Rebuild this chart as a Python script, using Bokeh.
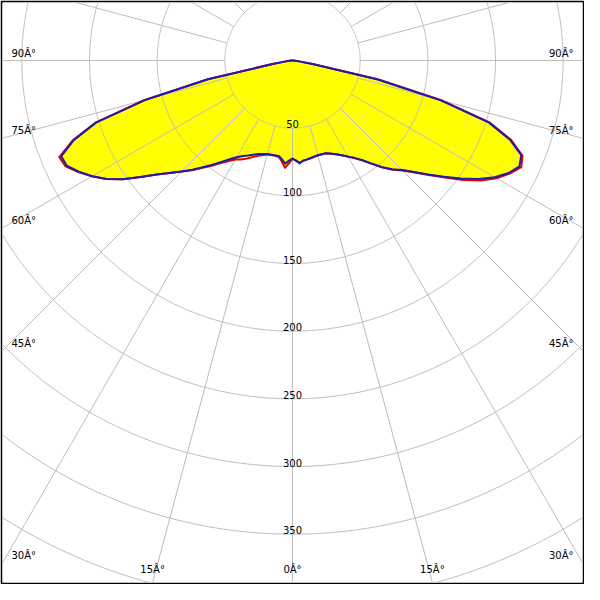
import numpy as np
from bokeh.plotting import figure
from bokeh.models import Range1d
from bokeh.core.properties import value
from bokeh.embed import file_html
from bokeh.resources import INLINE

# ---- data (candela values) ----
gamma = [0, 2, 4, 6, 8, 10, 15, 20, 25, 27.5, 30, 32.5, 35, 37.5, 40, 42.5, 45,
         47.5, 50, 52.5, 55, 57.5, 60, 62.5, 65, 67.5, 70, 72.5, 75, 77.5, 80,
         82.5, 85, 87.5, 90]
blue_left = [72.5, 74, 76.5, 73.5, 71.5, 71.3, 71.5, 73.5, 77.5, 79.5, 82.5, 86.5,
             91.5, 97, 103, 109.5, 116, 123, 131, 141.5, 153, 163, 171, 178, 184,
             185, 172, 152, 113, 64, 15, 5, 2, 1, 0]
blue_right = [72.5, 74, 76, 74.5, 74, 73.5, 72.5, 73, 76.5, 79, 82, 85.5, 90, 96,
              103, 109, 114.5, 122, 131, 141, 152, 163, 172.5, 180, 185, 183, 171,
              152, 113, 64, 15, 5, 2, 1, 0]
red_left = [72.5, 76, 79.5, 75, 72, 71.5, 72, 75, 80, 82.5, 84.5, 88, 92.5, 98,
            103.5, 110, 116, 123, 131, 141.5, 153, 163, 171, 178.5, 185, 186.5,
            173, 152.5, 113.5, 64, 15, 5, 2, 1, 0]
red_right = [72.5, 74, 76, 74.5, 74, 73.5, 72.5, 73, 76.5, 79, 82, 85.5, 90, 96,
             103, 109.5, 115, 122.5, 131.5, 142, 154, 165, 174, 181, 186.5, 184,
             172, 153, 115, 65, 15, 5, 2, 1, 0]

ring_values = [50, 100, 150, 200, 250, 300, 350, 400, 450]
ring_labels = ["50", "100", "150", "200", "250", "300", "350"]
spoke_step = 15
side_angles = [90, 75, 60, 45, 30]
side_labels = ["90Â°", "75Â°", "60Â°", "45Â°", "30Â°"]
bottom_angles = [-15, 0, 15]
bottom_labels = ["15Â°", "0Â°", "15Â°"]

# ---- view ----
XMAX = 214.29
YMIN, YMAX = -385.71, 42.86
PXU = 580 / (2 * XMAX)  # pixels per unit


def curve_xy(left, right):
    g = np.radians(np.array(gamma, dtype=float))
    L = np.array(left, dtype=float)
    R = np.array(right, dtype=float)
    xl = -L * np.sin(g)
    yl = -L * np.cos(g)
    xr = R * np.sin(g)
    yr = -R * np.cos(g)
    xs = np.concatenate([xl[::-1], xr])
    ys = np.concatenate([yl[::-1], yr])
    return xs, ys


p = figure(width=584, height=584, x_range=Range1d(-XMAX, XMAX),
           y_range=Range1d(YMIN, YMAX), output_backend="svg",
           toolbar_location=None, x_axis_type=None, y_axis_type=None,
           min_border=2, border_fill_color="black",
           background_fill_color="white", outline_line_color=None)
p.grid.visible = False

rx, ry = curve_xy(red_left, red_right)
bx, by = curve_xy(blue_left, blue_right)

p.patch(rx, ry, fill_color="#FFFF00", line_color=None)
p.patch(bx, by, fill_color="#FFFF00", line_color=None)

# grid circles
t = np.linspace(0, 2 * np.pi, 721)
cxs = [list(r * np.cos(t)) for r in ring_values]
cys = [list(r * np.sin(t)) for r in ring_values]
p.multi_line(cxs, cys, line_color="#BDBDBD", line_width=1)

# spokes from the first ring outward
sxs, sys_ = [], []
r0 = ring_values[0]
r1 = 700
for a in range(0, 360, spoke_step):
    ar = np.radians(a)
    sxs.append([r0 * np.sin(ar), r1 * np.sin(ar)])
    sys_.append([-r0 * np.cos(ar), -r1 * np.cos(ar)])
p.multi_line(sxs, sys_, line_color="#BDBDBD", line_width=1)

# curves
p.line(rx, ry, line_color="#E00000", line_width=2, line_join="round")
p.line(bx, by, line_color="#1C1CB0", line_width=2, line_join="round")

font = value("DejaVu Sans")
fs = "10px"

# ring labels
rl_y = [-v for v in ring_values[:len(ring_labels)]]
p.text(x=[0] * len(ring_labels), y=rl_y, text=ring_labels, text_align="center",
       text_baseline="bottom", text_font=font, text_font_size=fs,
       text_color="black")

# side angle labels
meet_y = []
for a in side_angles:
    if a == 90:
        meet_y.append(0.0)
    else:
        meet_y.append(-XMAX / np.tan(np.radians(a)))
ly = [m + 2 / PXU for m in meet_y]
p.text(x=[-XMAX + 9 / PXU] * len(side_labels), y=ly, text=side_labels,
       text_align="left", text_baseline="bottom", text_font=font,
       text_font_size=fs, text_color="black")
p.text(x=[XMAX - 9 / PXU] * len(side_labels), y=ly, text=side_labels,
       text_align="right", text_baseline="bottom", text_font=font,
       text_font_size=fs, text_color="black")

# bottom angle labels
bx_pos = [(-YMIN) * np.tan(np.radians(a)) for a in bottom_angles]
p.text(x=bx_pos, y=[YMIN + 7 / PXU] * len(bottom_labels), text=bottom_labels,
       text_align="center", text_baseline="bottom", text_font=font,
       text_font_size=fs, text_color="black")

open("out.html", "w").write(file_html(p, INLINE))
